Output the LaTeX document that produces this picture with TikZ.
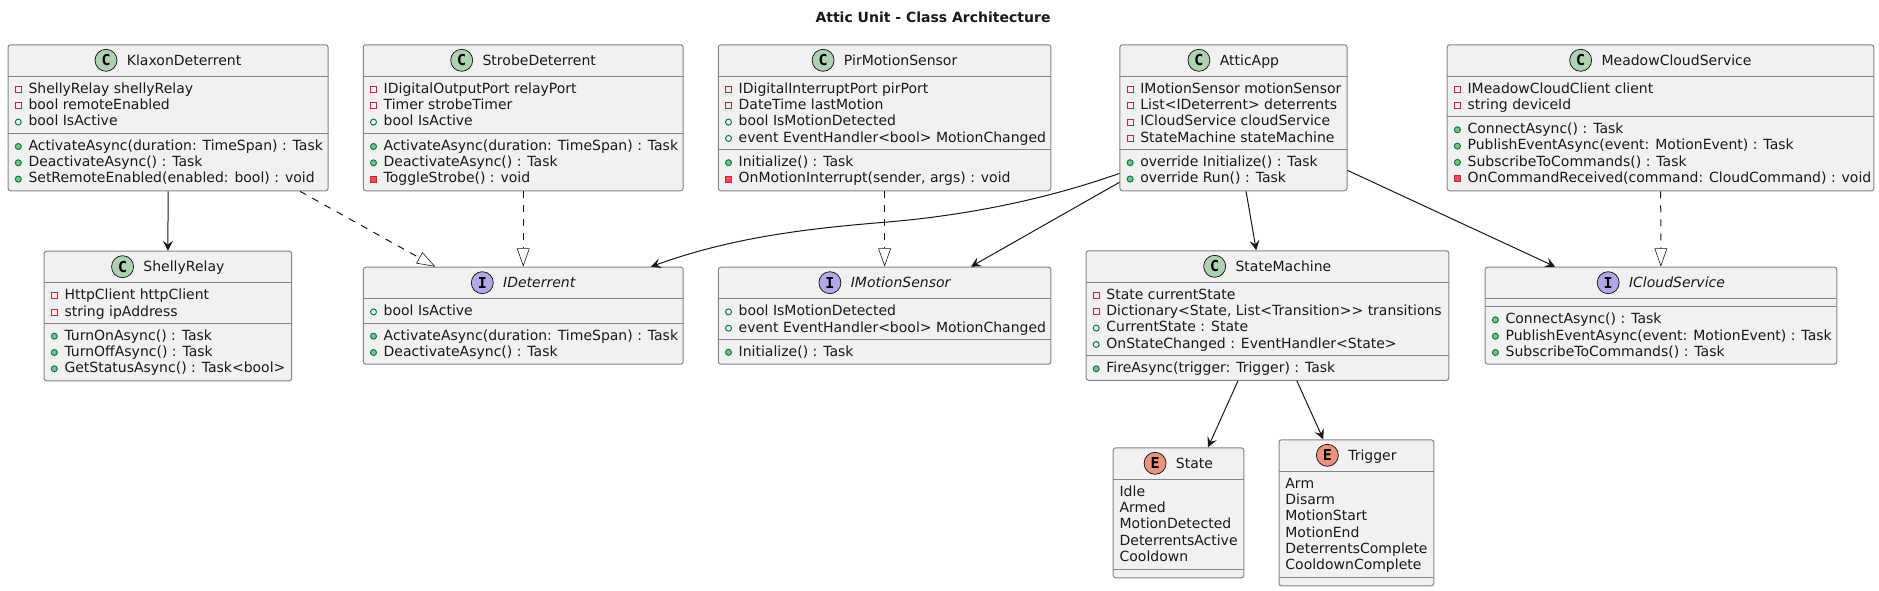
\documentclass[tikz,border=0pt]{standalone}
\usepackage{fontspec}
\setmainfont{DejaVu Sans}
\newfontfamily\spotfont{DejaVu Sans Mono}
\usetikzlibrary{arrows.meta}
\definecolor{umlink}{HTML}{181818}
\definecolor{umlborder}{HTML}{858585}
\definecolor{umlfill}{HTML}{F1F1F1}
\definecolor{privline}{HTML}{C82930}
\definecolor{privfill}{HTML}{F24D5C}
\definecolor{publine}{HTML}{038048}
\definecolor{pubfill}{HTML}{84BE84}
\definecolor{spotcolC}{HTML}{ADD1B2}
\definecolor{spotcolI}{HTML}{B4A7E5}
\definecolor{spotcolE}{HTML}{EB937F}

\tikzset{
  umlclass/.style={draw=umlborder,fill=umlfill,line width=1pt,rounded corners=2.5pt,
    anchor=north west,inner sep=0pt},
  umlrule/.style={draw=umlborder,line width=1pt},
  rowtext/.style={anchor=base west,inner sep=0pt,font=\fontsize{14}{16}\selectfont,text=black!90},
  titletext/.style={anchor=base,inner sep=0pt,font=\fontsize{14}{16}\selectfont,text=black!90},
  titleC/.style={},
  titleE/.style={},
  titleI/.style={font=\fontsize{14}{16}\selectfont\itshape},
  spot/.style={circle,minimum size=22pt,inner sep=0pt,draw=umlink,line width=0.75pt,
    font=\fontsize{15}{15}\spotfont\bfseries},
  privf/.style={rectangle,minimum size=6pt,inner sep=0pt,draw=privline,line width=1pt},
  privm/.style={privf,fill=privfill},
  pubf/.style={circle,minimum size=6pt,inner sep=0pt,draw=publine,line width=1pt},
  pubm/.style={pubf,fill=pubfill},
  assoc/.style={draw=umlink,line width=1pt,-{Stealth[length=10pt,width=10pt,inset=4pt]}},
  realize/.style={draw=umlink,line width=1pt,dash pattern=on 7pt off 7pt,
    -{Triangle[length=18.4pt,width=12.8pt,fill=white,line width=0.6pt]}},
}

% name, left, right, top, bottom, letter, title
\newcommand{\umlbox}[7]{
  \node[umlclass,minimum width=(#3-#2)*1pt,minimum height=(#5-#4)*1pt] (#1) at (#2,#4) {};
  \path (#1.north) ++(16,21) node[titletext,title#6] (#1-title) {#7};
  \node[spot,fill=spotcol#6] (#1-spot) at ([xshift=-20.7pt]#1-title.west |- 0,#4+16) {#6};
}
% box name, y of the rule, rows with their marker
\newcommand{\umlrows}[3]{
  \draw[umlrule] (#1.west |- 0,#2) -- (#1.east |- 0,#2);
  \foreach \vis/\txt [count=\rownum from 0] in {#3} {
    \pgfmathsetmacro{\ybase}{#2+17+16.3*\rownum}
    \pgfmathsetmacro{\ymark}{#2+13.2+16.3*\rownum}
    \node[\vis] (#1-m#2-\rownum) at ([xshift=10.7pt]#1.west |- 0,\ymark) {};
    \node[rowtext] (#1-t#2-\rownum) at ([xshift=20.7pt]#1.west |- 0,\ybase) {\txt};
  }
}
% box name, y of the rule, rows without marker
\newcommand{\umlplain}[3]{
  \draw[umlrule] (#1.west |- 0,#2) -- (#1.east |- 0,#2);
  \foreach \txt [count=\rownum from 0] in {#3} {
    \pgfmathsetmacro{\ybase}{#2+17+16.3*\rownum}
    \node[rowtext] (#1-t#2-\rownum) at ([xshift=6.7pt]#1.west |- 0,\ybase) {\txt};
  }
}

\begin{document}
\begin{tikzpicture}[x=1pt,y=-1pt]
  \useasboundingbox (0,0) rectangle (1879,591);
  \node[titletext,font=\fontsize{14}{16}\selectfont\bfseries] (title) at (933,22.7) {Attic Unit - Class Architecture};

  \umlbox{klaxon}{7.6}{327.6}{44.3}{190.3}{C}{KlaxonDeterrent}
  \umlrows{klaxon}{76.3}{privf/ShellyRelay shellyRelay,privf/bool remoteEnabled,pubf/bool IsActive}
  \umlrows{klaxon}{133.3}{pubm/ActivateAsync(duration: TimeSpan) : Task,pubm/DeactivateAsync() : Task,pubm/SetRemoteEnabled(enabled: bool) : void}

  \umlbox{strobe}{362.8}{682.7}{44.3}{190.3}{C}{StrobeDeterrent}
  \umlrows{strobe}{76.3}{privf/IDigitalOutputPort relayPort,privf/Timer strobeTimer,pubf/bool IsActive}
  \umlrows{strobe}{133.3}{pubm/ActivateAsync(duration: TimeSpan) : Task,pubm/DeactivateAsync() : Task,privm/ToggleStrobe() : void}

  \umlbox{pirsensor}{717.8}{1050.4}{44.3}{190.3}{C}{PirMotionSensor}
  \umlrows{pirsensor}{76.3}{privf/IDigitalInterruptPort pirPort,privf/DateTime lastMotion,pubf/bool IsMotionDetected,pubf/event EventHandler<bool> MotionChanged}
  \umlrows{pirsensor}{149.5}{pubm/Initialize() : Task,privm/{OnMotionInterrupt(sender, args) : void}}

  \umlbox{attic}{1119.4}{1346.5}{44.3}{190.3}{C}{AtticApp}
  \umlrows{attic}{76.3}{privf/IMotionSensor motionSensor,privf/List<IDeterrent> deterrents,privf/ICloudService cloudService,privf/StateMachine stateMachine}
  \umlrows{attic}{149.5}{pubm/override Initialize() : Task,pubm/override Run() : Task}

  \umlbox{meadow}{1446.7}{1873.3}{44.3}{190.3}{C}{MeadowCloudService}
  \umlrows{meadow}{76.3}{privf/IMeadowCloudClient client,privf/string deviceId}
  \umlrows{meadow}{116.6}{pubm/ConnectAsync() : Task,pubm/PublishEventAsync(event: MotionEvent) : Task,pubm/SubscribeToCommands() : Task,privm/OnCommandReceived(command: CloudCommand) : void}

  \umlbox{shelly}{43.6}{291.2}{250.7}{380.3}{C}{ShellyRelay}
  \umlrows{shelly}{282.7}{privf/HttpClient httpClient,privf/string ipAddress}
  \umlrows{shelly}{323}{pubm/TurnOnAsync() : Task,pubm/TurnOffAsync() : Task,pubm/GetStatusAsync() : Task<bool>}

  \umlbox{ideterrent}{362.8}{682.7}{266.7}{363.7}{I}{IDeterrent}
  \umlrows{ideterrent}{298.7}{pubf/bool IsActive}
  \umlrows{ideterrent}{323}{pubm/ActivateAsync(duration: TimeSpan) : Task,pubm/DeactivateAsync() : Task}

  \umlbox{imotion}{717.8}{1050.4}{266.7}{363.7}{I}{IMotionSensor}
  \umlrows{imotion}{298.7}{pubf/bool IsMotionDetected,pubf/event EventHandler<bool> MotionChanged}
  \umlrows{imotion}{339.1}{pubm/Initialize() : Task}

  \umlbox{statem}{1085.5}{1448.3}{250.3}{379.8}{C}{StateMachine}
  \umlrows{statem}{282.3}{privf/State currentState,privf/{Dictionary<State, List<Transition>{}> transitions},pubf/CurrentState : State,pubf/OnStateChanged : EventHandler<State>}
  \umlrows{statem}{355.6}{pubm/FireAsync(trigger: Trigger) : Task}

  \umlbox{icloud}{1484.7}{1836.3}{266.7}{363.7}{I}{ICloudService}
  \draw[umlrule] (icloud.west |- 0,298.7) -- (icloud.east |- 0,298.7);
  \umlrows{icloud}{306.7}{pubm/ConnectAsync() : Task,pubm/PublishEventAsync(event: MotionEvent) : Task,pubm/SubscribeToCommands() : Task}

  \umlbox{state}{1112.7}{1243.3}{447.3}{577.3}{E}{State}
  \umlplain{state}{479.3}{Idle,Armed,MotionDetected,DeterrentsActive,Cooldown}
  \draw[umlrule] (state.west |- 0,569.2) -- (state.east |- 0,569.2);

  \umlbox{trigger}{1278.5}{1433.3}{439.3}{585.3}{E}{Trigger}
  \umlplain{trigger}{471.3}{Arm,Disarm,MotionStart,MotionEnd,DeterrentsComplete,CooldownComplete}
  \draw[umlrule] (trigger.west |- 0,577.1) -- (trigger.east |- 0,577.1);

  \coordinate (midbend) at (884,222.3);

  \draw[assoc] (klaxon.south) -- (shelly.north);
  \draw[realize] (klaxon) -- (ideterrent);
  \draw[realize] (strobe) -- (ideterrent);
  \draw[realize] (pirsensor) -- (imotion);
  \draw[realize] (meadow) -- (icloud);
  \draw[assoc] (attic.-154) .. controls (1041,201) and (961,216) .. (midbend) .. controls (804,228.8) and (730,238) .. (ideterrent.21.5);
  \draw[assoc] (attic) -- (imotion);
  \draw[assoc] (attic) -- (statem);
  \draw[assoc] (attic) -- (icloud);
  \draw[assoc] (statem) -- (state);
  \draw[assoc] (statem) -- (trigger);
\end{tikzpicture}
\end{document}
